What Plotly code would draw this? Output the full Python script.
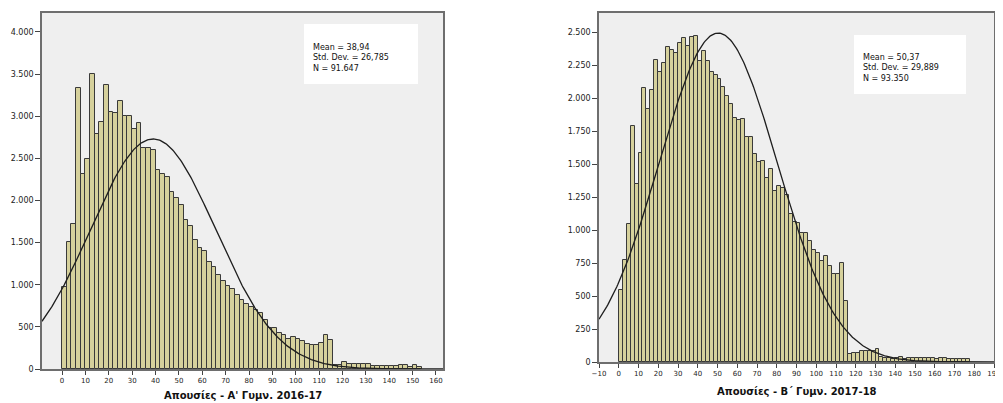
import numpy as np
import plotly.graph_objects as go

# ---------------- data ----------------
BIN_WIDTH = 2

# Left: Απουσίες - Α' Γυμν. 2016-17 (bins of width 2 starting at 0)
LEFT_COUNTS = [
    970, 1510, 1725, 3330, 2310, 2490, 3500, 2785, 2930, 3365,
    3045, 3040, 3175, 3000, 3000, 2850, 2925, 2625, 2625, 2595,
    2365, 2320, 2280, 2100, 2030, 1945, 1765, 1700, 1535, 1435,
    1400, 1275, 1210, 1120, 1050, 980, 945, 880, 820, 770,
    735, 705, 660, 580, 492, 484, 425, 398, 355, 375,
    355, 330, 294, 288, 290, 312, 405, 340, 48, 52,
    80, 60, 64, 56, 56, 56, 40, 40, 32, 30,
    36, 30, 44, 44, 28, 44, 28,
]
LEFT_MEAN = 38.94
LEFT_SD = 26.785
LEFT_N = 91647
LEFT_STATS_TEXT = ["Mean = 38,94", "Std. Dev. = 26,785", "N = 91.647"]
LEFT_TITLE = "Απουσίες - Α' Γυμν. 2016-17"
LEFT_X_TICKS = list(range(0, 161, 10))
LEFT_Y_TICKS = [0, 500, 1000, 1500, 2000, 2500, 3000, 3500, 4000]
LEFT_Y_LABELS = ["0", "500", "1.000", "1.500", "2.000", "2.500", "3.000", "3.500", "4.000"]

# Right: Απουσίες - Β΄ Γυμν. 2017-18
RIGHT_COUNTS = [
    545, 773, 1043, 1785, 1346, 1581, 2075, 1916, 2060, 2285,
    2194, 2262, 2390, 2363, 2338, 2414, 2455, 2391, 2465, 2470,
    2283, 2355, 2283, 2199, 2174, 2146, 2086, 2017, 1952, 1848,
    1833, 1841, 1707, 1707, 1576, 1518, 1525, 1391, 1465, 1295,
    1331, 1316, 1265, 1119, 1058, 1050, 980, 980, 914, 846,
    828, 763, 805, 727, 664, 664, 752, 465, 63, 68,
    68, 81, 83, 83, 83, 101, 35, 30, 30, 25,
    30, 35, 25, 33, 33, 28, 28, 28, 28, 33,
    25, 33, 30, 23, 23, 20, 20, 20, 20,
]
RIGHT_MEAN = 50.37
RIGHT_SD = 29.889
RIGHT_N = 93350
RIGHT_STATS_TEXT = ["Mean = 50,37", "Std. Dev. = 29,889", "N = 93.350"]
RIGHT_TITLE = "Απουσίες - Β΄ Γυμν. 2017-18"
RIGHT_X_TICKS = list(range(-10, 191, 10))
RIGHT_Y_TICKS = [0, 250, 500, 750, 1000, 1250, 1500, 1750, 2000, 2250, 2500]
RIGHT_Y_LABELS = ["0", "250", "500", "750", "1.000", "1.250", "1.500", "1.750", "2.000", "2.250", "2.500"]

# ---------------- styling ----------------
W, H = 1003, 403
OFF = 8  # page body margin in the browser
BAR_FILL = "#d6d19c"
BAR_EDGE = "#3a3a3a"
CURVE = "#1e1e1e"
FRAME = "#6e6e6e"
BG = "#efefef"
TICK_FONT = dict(family="DejaVu Sans", size=8, color="#222222")
XTICK_FONT = dict(family="DejaVu Sans", size=7, color="#222222")

LEFT_XRANGE = [-8.56, 163.0]
LEFT_YRANGE = [0, 4225]
RIGHT_XRANGE = [-10, 190]
RIGHT_YRANGE = [0, 2644]


def px_x(p):
    return (p - OFF) / W


def px_y(p):
    return 1 - (p - OFF) / H


def normal_curve(xr, mean, sd, n):
    xs = np.linspace(xr[0], xr[1], 400)
    ys = n * BIN_WIDTH / (sd * np.sqrt(2 * np.pi)) * np.exp(-0.5 * ((xs - mean) / sd) ** 2)
    return xs, ys


fig = go.Figure()

for counts, mean, sd, n, xr, xa, ya in [
    (LEFT_COUNTS, LEFT_MEAN, LEFT_SD, LEFT_N, LEFT_XRANGE, "x", "y"),
    (RIGHT_COUNTS, RIGHT_MEAN, RIGHT_SD, RIGHT_N, RIGHT_XRANGE, "x2", "y2"),
]:
    centers = [i * BIN_WIDTH + BIN_WIDTH / 2 for i in range(len(counts))]
    fig.add_trace(go.Bar(
        x=centers, y=counts, width=BIN_WIDTH,
        marker=dict(color=BAR_FILL, line=dict(color=BAR_EDGE, width=1)),
        xaxis=xa, yaxis=ya, hoverinfo="skip",
    ))
    cx, cy = normal_curve(xr, mean, sd, n)
    fig.add_trace(go.Scatter(
        x=cx, y=cy, mode="lines", line=dict(color=CURVE, width=1.3),
        xaxis=xa, yaxis=ya, hoverinfo="skip",
    ))

axis_common = dict(showgrid=False, zeroline=False, showline=True, mirror=True,
                   linecolor=FRAME, linewidth=1.5, ticks="outside",
                   tickcolor="#444444", tickwidth=1, automargin=False)

fig.update_layout(
    width=W, height=H, margin=dict(l=0, r=0, t=0, b=0, autoexpand=False),
    paper_bgcolor="white", plot_bgcolor=BG, showlegend=False, bargap=0,
    xaxis=dict(domain=[px_x(42), px_x(443)], range=LEFT_XRANGE, anchor="y",
               tickvals=LEFT_X_TICKS, ticklen=4, tickfont=XTICK_FONT, **axis_common),
    yaxis=dict(domain=[px_y(369), px_y(13)], range=LEFT_YRANGE, anchor="x",
               tickvals=LEFT_Y_TICKS, ticktext=LEFT_Y_LABELS, ticklen=5,
               tickfont=TICK_FONT, **axis_common),
    xaxis2=dict(domain=[px_x(599), px_x(994)], range=RIGHT_XRANGE, anchor="y2",
                tickvals=RIGHT_X_TICKS, ticklen=4, tickfont=XTICK_FONT, **axis_common),
    yaxis2=dict(domain=[px_y(362), px_y(13)], range=RIGHT_YRANGE, anchor="x2",
                tickvals=RIGHT_Y_TICKS, ticktext=RIGHT_Y_LABELS, ticklen=5,
                tickfont=TICK_FONT, **axis_common),
)

# stats boxes
shapes = []
annotations = []
for (x0, y0, x1, y1), lines, tx, ty in [
    ((304, 24, 418, 84), LEFT_STATS_TEXT, 311, 57.5),
    ((854, 35, 966, 94), RIGHT_STATS_TEXT, 861, 68.2),
]:
    shapes.append(dict(type="rect", xref="paper", yref="paper",
                       x0=px_x(x0), x1=px_x(x1), y0=px_y(y1), y1=px_y(y0),
                       fillcolor="white", line=dict(width=0), layer="above"))
    annotations.append(dict(xref="paper", yref="paper", x=px_x(tx), y=px_y(ty),
                            xanchor="left", yanchor="middle", align="left", showarrow=False,
                            text="<br>".join(lines),
                            font=dict(family="DejaVu Sans", size=8, color="#111111")))

# axis titles
annotations.append(dict(xref="paper", yref="paper", x=px_x(242.5), y=px_y(395),
                        xanchor="center", yanchor="middle", showarrow=False,
                        text="<b>" + LEFT_TITLE + "</b>",
                        font=dict(family="DejaVu Sans", size=10, color="#111111")))
annotations.append(dict(xref="paper", yref="paper", x=px_x(797), y=px_y(391),
                        xanchor="center", yanchor="middle", showarrow=False,
                        text="<b>" + RIGHT_TITLE + "</b>",
                        font=dict(family="DejaVu Sans", size=10, color="#111111")))

fig.update_layout(shapes=shapes, annotations=annotations)

fig.write_html("out.html")
